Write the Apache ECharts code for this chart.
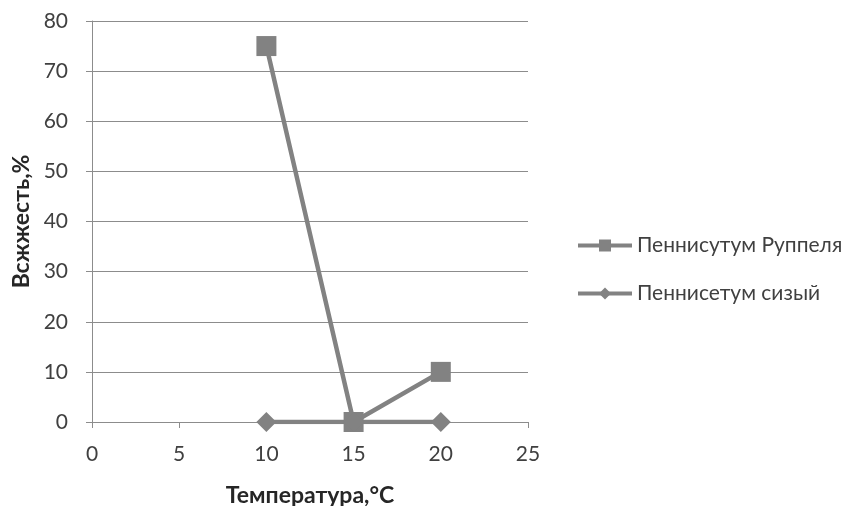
<!DOCTYPE html>
<html><head><meta charset="utf-8">
<script src="https://cdn.jsdelivr.net/npm/echarts@6/dist/echarts.min.js"></script>
<style>html,body{margin:0;padding:0;background:#fff}#c{width:857px;height:506px}</style>
</head><body><div id="c"></div>
<script>
const temps = [10, 15, 20];
const ruppel = [75, 0, 10];
const sizy = [0, 0, 0];
const seriesNames = ['Пеннисутум Руппеля', 'Пеннисетум сизый'];
const xTitle = 'Температура,°C';
const yTitle = 'Всжжесть,%';

const FONT = 'Lato';
const chart = echarts.init(document.getElementById('c'));
const pts = (xs, ys) => xs.map((x, i) => [x, ys[i]]);
chart.setOption({
  animation: false,
  grid: {left: 92, right: 329, top: 21, bottom: 84, containLabel: false, outerBoundsMode: 'none'},
  xAxis: {
    type: 'value', min: 0, max: 25, interval: 5,
    name: xTitle, nameLocation: 'middle', nameGap: 62,
    nameTextStyle: {fontFamily: FONT, fontWeight: 'bold', fontSize: 23, color: '#262626'},
    axisLine: {show: true, lineStyle: {color: '#8c8c8c', width: 1}},
    axisTick: {show: true, inside: false, length: 6, lineStyle: {color: '#8c8c8c'}},
    axisLabel: {fontFamily: FONT, fontSize: 21, color: '#404040', margin: 22},
    splitLine: {show: false}
  },
  yAxis: {
    type: 'value', min: 0, max: 80, interval: 10,
    name: yTitle, nameLocation: 'middle', nameGap: 57, nameRotate: 90,
    nameTextStyle: {fontFamily: FONT, fontWeight: 'bold', fontSize: 23, color: '#262626'},
    axisLine: {show: true, lineStyle: {color: '#8c8c8c', width: 1}},
    axisTick: {show: true, inside: false, length: 6, lineStyle: {color: '#8c8c8c'}},
    axisLabel: {fontFamily: FONT, fontSize: 21, color: '#404040', margin: 24},
    splitLine: {show: true, lineStyle: {color: '#8c8c8c', width: 1}}
  },
  legend: {
    orient: 'vertical', left: 576, top: 235, padding: 0,
    itemWidth: 54, itemHeight: 15, itemGap: 27,
    lineStyle: {width: 4},
    textStyle: {fontFamily: FONT, fontSize: 21, color: '#404040'},
    data: seriesNames
  },
  series: [
    {name: seriesNames[0], type: 'line', data: pts(temps, ruppel),
     symbol: 'rect', symbolSize: 20,
     lineStyle: {color: '#828282', width: 4.5}, itemStyle: {color: '#828282'}},
    {name: seriesNames[1], type: 'line', data: pts(temps, sizy),
     symbol: 'diamond', symbolSize: 20,
     lineStyle: {color: '#828282', width: 4.5}, itemStyle: {color: '#828282'}}
  ]
});
</script></body></html>
